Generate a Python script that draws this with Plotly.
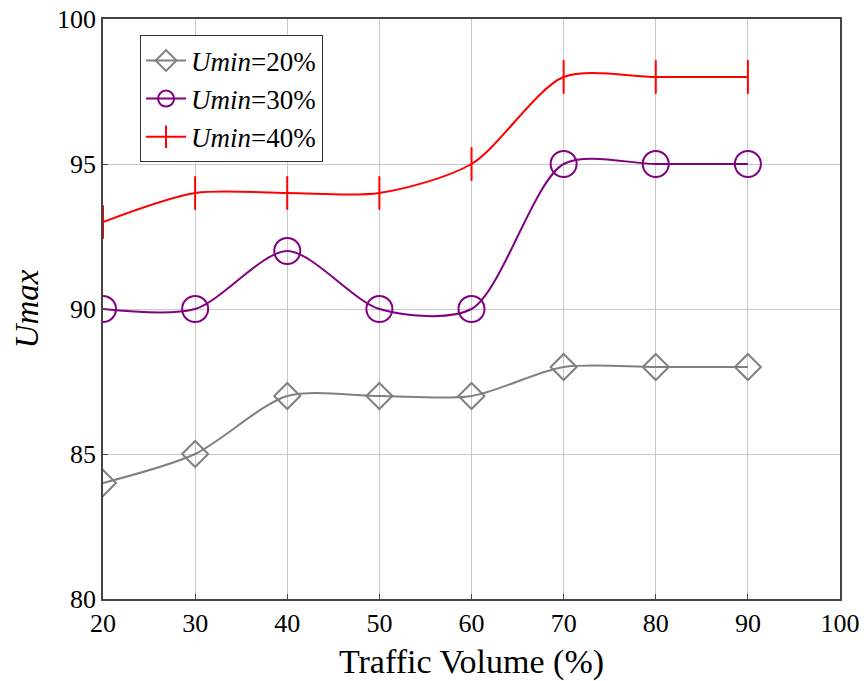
import plotly.graph_objects as go

traffic = [20, 30, 40, 50, 60, 70, 80, 90]
umin20 = [84, 85, 87, 87, 87, 88, 88, 88]
umin30 = [90, 90, 92, 90, 90, 95, 95, 95]
umin40 = [93, 94, 94, 94, 95, 98, 98, 98]
x_ticks = [20, 30, 40, 50, 60, 70, 80, 90, 100]
y_ticks = [80, 85, 90, 95, 100]

font_family = "Liberation Serif, DejaVu Serif, serif"

fig = go.Figure()
fig.add_trace(go.Scatter(
    x=traffic, y=umin20, mode="lines+markers", name="<i>Umin</i>=20%",
    line=dict(color="rgb(128,128,128)", width=2, shape="spline", smoothing=0.8),
    marker=dict(symbol="diamond-open", size=20, color="rgb(128,128,128)", line=dict(width=2)),
))
fig.add_trace(go.Scatter(
    x=traffic, y=umin30, mode="lines+markers", name="<i>Umin</i>=30%",
    line=dict(color="rgb(128,0,128)", width=2, shape="spline", smoothing=0.8),
    marker=dict(symbol="circle-open", size=26, color="rgb(128,0,128)", line=dict(width=2)),
))
fig.add_trace(go.Scatter(
    x=traffic, y=umin40, mode="lines+markers", name="<i>Umin</i>=40%",
    line=dict(color="rgb(255,0,0)", width=2, shape="spline", smoothing=0.8),
    marker=dict(symbol="line-ns-open", size=24, color="rgb(255,0,0)", line=dict(width=2, color="rgb(255,0,0)")),
))

fig.update_layout(
    width=864, height=681,
    margin=dict(l=103, r=24, t=19, b=82),
    paper_bgcolor="white", plot_bgcolor="white",
    font=dict(family=font_family, size=26, color="black"),
    showlegend=True,
    legend=dict(
        x=0.05, y=0.972, xanchor="left", yanchor="top",
        bgcolor="white", bordercolor="#333333", borderwidth=1.2,
        font=dict(size=27, family=font_family),
        itemwidth=40, tracegroupgap=0,
    ),
    xaxis=dict(
        range=[20, 100], tickvals=x_ticks, showgrid=True, gridcolor="#c8c8c8", gridwidth=1,
        showline=True, linecolor="#444444", linewidth=1.5, mirror=True,
        ticks="inside", ticklen=5, tickcolor="#444444", zeroline=False, automargin=False,
        ticklabeloverflow="allow",
        title=dict(text="Traffic Volume (%)", font=dict(size=34), standoff=12),
        tickfont=dict(size=26),
    ),
    yaxis=dict(
        range=[80, 100], tickvals=y_ticks, showgrid=True, gridcolor="#c8c8c8", gridwidth=1,
        showline=True, linecolor="#444444", linewidth=1.5, mirror=True,
        ticks="inside", ticklen=5, tickcolor="#444444", zeroline=False, automargin=False,
        ticklabeloverflow="allow",
        title=dict(text="<i>Umax</i>", font=dict(size=33), standoff=8),
        tickfont=dict(size=26),
    ),
)

fig.write_html(
    "out.html",
    config={"displayModeBar": False},
    post_script="document.body.style.margin='0';document.body.style.overflow='hidden';",
)
